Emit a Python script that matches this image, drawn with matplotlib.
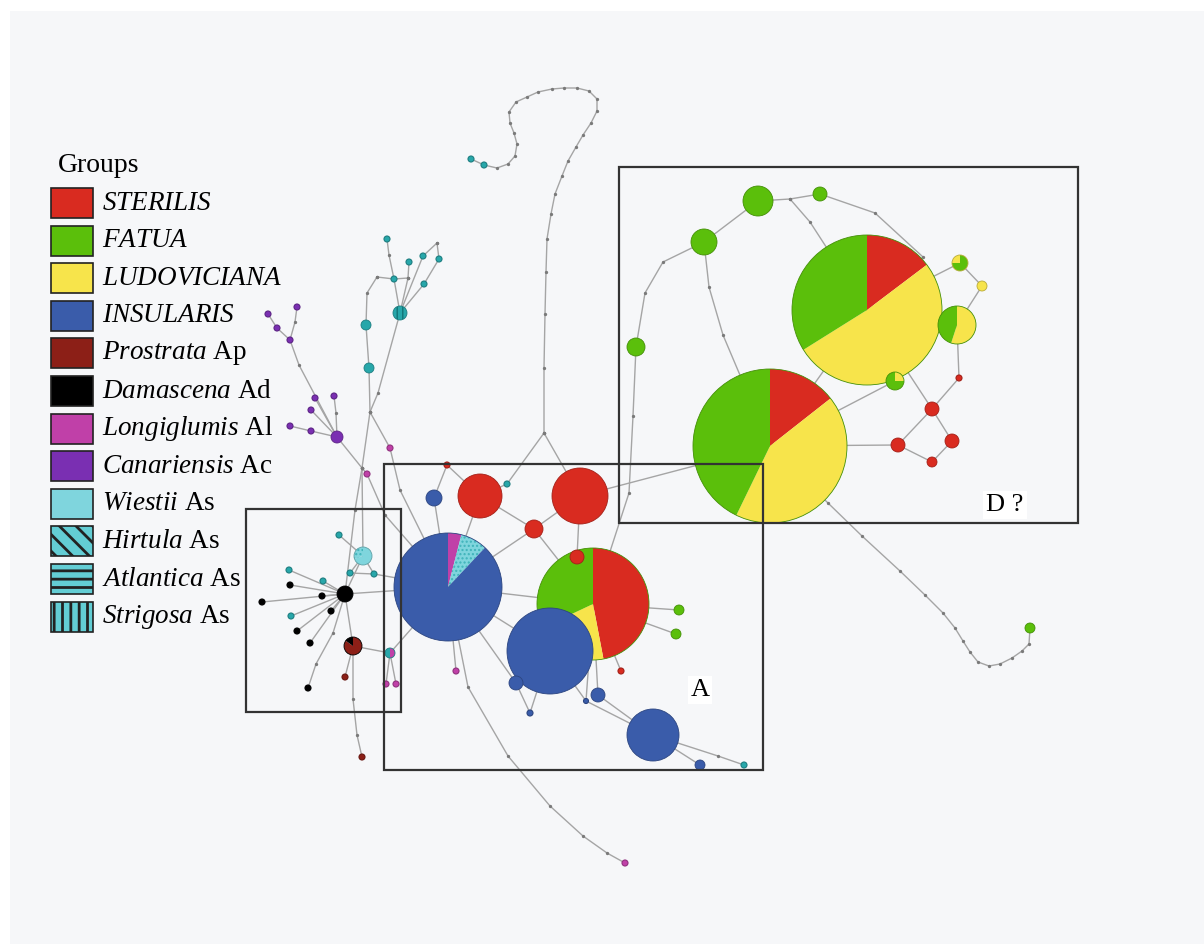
import matplotlib.pyplot as plt
from matplotlib.patches import Wedge, Circle, Rectangle
from matplotlib.colors import to_rgb

plt.rcParams['font.family'] = 'Liberation Serif'
plt.rcParams['mathtext.fontset'] = 'custom'
plt.rcParams['mathtext.rm'] = 'Liberation Serif'
plt.rcParams['mathtext.it'] = 'Liberation Serif:italic'
plt.rcParams['hatch.linewidth'] = 2.0

# groups, legend text and colours
groups = ['STE', 'FAT', 'LUD', 'INS', 'PRO', 'DAM', 'LON', 'CAN', 'WIE', 'HIR', 'ATL', 'STR']
legend_names = ['STERILIS', 'FATUA', 'LUDOVICIANA', 'INSULARIS', 'Prostrata', 'Damascena',
                'Longiglumis', 'Canariensis', 'Wiestii', 'Hirtula', 'Atlantica', 'Strigosa']
legend_codes = ['', '', '', '', 'Ap', 'Ad', 'Al', 'Ac', 'As', 'As', 'As', 'As']
legend_colors = ['#d92b20', '#5bbf0b', '#f7e44b', '#3a5caa', '#8c1f17', '#000000',
                 '#c040a8', '#7a2fb2', '#7fd5dd', '#63cdd4', '#63cdd4', '#63cdd4']
legend_hatch = ['', '', '', '', '', '', '', '', '', '\\\\', '--', '||']
node_colors = dict(zip(groups, legend_colors))
node_colors.update({'HIR': '#7fd5dd', 'STR': '#27a7aa'})
node_hatch = {'HIR': '....', 'STR': '|||'}
node_hatch_color = {'HIR': '#3fb3ba', 'STR': '#127477'}

# haplotypes: D group
d_id = ['dT', 'dB', 'g1', 'g2', 'g3', 'g4', 'p1', 'y1', 'p2', 'p3', 'r1', 'r2', 'r3', 'r4', 'r5', 'g5']
d_x = [867, 770, 758, 820, 704, 636, 960, 982, 957, 895, 959, 932, 898, 952, 932, 1030]
d_y = [310, 446, 201, 194, 242, 347, 263, 286, 325, 381, 378, 409, 445, 441, 462, 628]
d_r = [75, 77, 15, 7, 13, 9, 8, 5, 19, 9, 3, 7, 7, 7, 5, 5]
d_groups = [['STE', 'LUD', 'FAT'], ['STE', 'LUD', 'FAT'], ['FAT'], ['FAT'], ['FAT'], ['FAT'],
            ['FAT', 'LUD'], ['LUD'], ['LUD', 'FAT'], ['LUD', 'FAT'],
            ['STE'], ['STE'], ['STE'], ['STE'], ['STE'], ['FAT']]
d_fracs = [[.147, .514, .339], [.144, .428, .428], [1], [1], [1], [1], [.75, .25], [1],
           [.55, .45], [.25, .75], [1], [1], [1], [1], [1], [1]]

# haplotypes: A group
a_id = ['aB', 'aP', 'aB2', 'aB3', 'b4', 'b5', 'b6', 'b7', 'b8', 'b9', 't1', 'rA', 'rB', 'rC',
        'rD', 'rE', 't2', 'g6', 'g7', 'rF', 'm1', 'm2']
a_x = [448, 593, 550, 653, 598, 516, 530, 700, 434, 586, 744, 480, 580, 534, 577, 447, 507, 679, 676, 621, 456, 625]
a_y = [587, 604, 651, 735, 695, 683, 713, 765, 498, 701, 765, 496, 496, 529, 557, 465, 484, 610, 634, 671, 671, 863]
a_r = [54, 56, 43, 26, 7, 7, 3, 5, 8, 2.5, 3, 22, 28, 9, 7, 3, 3, 5, 5, 3, 3, 3]
a_groups = [['LON', 'HIR', 'INS'], ['STE', 'LUD', 'FAT'], ['INS'], ['INS'], ['INS'], ['INS'], ['INS'],
            ['INS'], ['INS'], ['INS'], ['STR'], ['STE'], ['STE'], ['STE'], ['STE'], ['STE'], ['STR'],
            ['FAT'], ['FAT'], ['STE'], ['LON'], ['LON']]
a_fracs = [[.04, .08, .88], [.47, .21, .32]] + [[1]] * 20

# haplotypes: diploid / As genomes on the left
l_id = ['k0', 'w0', 'pr0', 'tm', 'k1', 'k2', 'k3', 'k4', 'k5', 'k6', 'k7',
        't3', 't4', 't5', 't6', 't7', 't8', 'pr1', 'pr2', 'm3', 'm4', 'm5', 'm6',
        'T0', 'T1', 'T2', 'T3', 'T4', 'T5', 'T6', 'T7', 'T8',
        'c0', 'c1', 'c2', 'c3', 'c4', 'c5', 'c6', 'c7', 'c8', 'c9', 's1', 's2']
l_x = [345, 363, 353, 390, 290, 262, 322, 331, 297, 310, 308,
       339, 350, 374, 289, 323, 291, 345, 362, 386, 396, 367, 390,
       400, 387, 409, 423, 439, 394, 424, 366, 369,
       337, 268, 297, 277, 290, 315, 334, 311, 290, 311, 471, 484]
l_y = [594, 556, 646, 653, 585, 602, 596, 611, 631, 643, 688,
       535, 573, 574, 570, 581, 616, 677, 757, 684, 684, 474, 448,
       313, 239, 262, 256, 259, 279, 284, 325, 368,
       437, 314, 307, 328, 340, 398, 396, 410, 426, 431, 159, 165]
l_r = [8, 9, 9, 5] + [3] * 19 + [7, 3, 3, 3, 3, 3, 3, 5, 5] + [6] + [3] * 9 + [3, 3]
l_groups = ([['DAM'], ['WIE', 'HIR'], ['PRO', 'DAM'], ['LON', 'STR']] + [['DAM']] * 7 + [['STR']] * 6
            + [['PRO']] * 2 + [['LON']] * 4 + [['STR']] * 9 + [['CAN']] * 10 + [['STR']] * 2)
l_fracs = [[1], [.7, .3], [.85, .15], [.5, .5]] + [[1]] * 40

# median vectors / junctions
junc_id = ['J1', 'J2', 'J3', 'J4', 'J5', 'J6', 'J7']
junc_x = [544, 790, 362, 377, 408, 370, 437]
junc_y = [433, 199, 468, 277, 278, 412, 243]

# network links (ids or mutation-step points)
paths = [
    ['s1', 's2', (497, 168), (508, 164), (515, 156), (517, 144), (514, 133), (510, 123), (509, 112),
     (516, 102), (527, 97), (538, 92), (552, 89), (564, 88), (577, 88), (589, 91), (597, 99), (597, 111),
     (591, 123), (583, 135), (576, 147), (568, 161), (562, 176), (555, 194), (551, 214), (547, 239),
     (546, 272), (545, 314), (544, 368), 'J1'],
    ['J1', 't2', 'rA'], ['J1', 'rB'],
    ['rE', 'rA'], ['rE', 'b8'], ['b8', 'aB'], ['rA', 'aB'], ['rA', 'rC'], ['rB', 'rC'], ['rC', 'aB'],
    ['rC', 'aP'], ['rB', 'rD'], ['rB', 'dB'],
    ['g4', (633, 416), (629, 493), 'aP'],
    ['g3', (663, 262), (645, 293), 'g4'],
    ['g3', 'g1'], ['g3', (709, 287), (723, 335), 'dB'],
    ['g1', 'J2', 'g2'], ['J2', (810, 222), 'dT'],
    ['g2', (875, 213), (923, 257), 'dT'],
    ['dT', 'dB'], ['dT', 'p1'], ['p1', 'y1', 'p2'], ['dT', 'p2'], ['p2', 'r1', 'r2'], ['dT', 'r2'],
    ['r2', 'r3'], ['r2', 'r4'], ['r3', 'r5', 'r4'], ['r3', 'dB'], ['p3', 'dB'],
    ['dB', (828, 503), (862, 536), (900, 571), (925, 595), (943, 613), (955, 628), (963, 641), (970, 652),
     (978, 662), (989, 666), (1000, 664), (1012, 658), (1022, 651), (1029, 644), 'g5'],
    ['aP', 'g6'], ['aP', 'g7'], ['aP', 'rF'], ['aB', 'aP'], ['aB', 'aB2'],
    ['aB', 'm1'], ['aB', (468, 687), (508, 756), (550, 806), (583, 836), (607, 853), 'm2'],
    ['aB', 'b5'], ['b5', 'b6'], ['aB2', 'b6'], ['aB2', 'b9'], ['b9', 'aB3'], ['aP', 'b4'], ['b4', 'aB3'],
    ['aP', 'b9'], ['aB3', 'b7'], ['aB3', (718, 756), 't1'],
    ['k0', 'k1'], ['k0', 'k2'], ['k0', 'k3'], ['k0', 'k4'], ['k0', 'k5'], ['k0', 'k6'],
    ['k0', (333, 633), (316, 664), 'k7'], ['k0', 't6'], ['k0', 't7'], ['k0', 't8'],
    ['k0', 'w0'], ['w0', 't3'], ['w0', 't4'], ['w0', 't5'], ['t4', 't5', 'aB'],
    ['k0', 'aB'], ['k0', 'pr0'], ['pr0', 'pr1'], ['pr0', (353, 699), (357, 735), 'pr2'],
    ['pr0', 'tm'], ['tm', 'm3'], ['tm', 'm4'], ['tm', 'aB'],
    ['T1', (389, 255), 'T5'], ['J4', 'T5', 'J5'], ['J4', (367, 293), 'T7'], ['T7', 'T8', 'J6'],
    ['T2', 'J5'], ['J5', 'T0'], ['T5', 'T0'], ['T0', 'T3', 'J7'], ['J7', 'T4', 'T6', 'T0'],
    ['T0', (378, 393), 'J6'], ['J6', 'J3'],
    ['c1', 'c3', 'c4'], ['c2', (295, 322), 'c4'], ['c4', (299, 365), 'c0'], ['c5', 'c0'],
    ['c6', (336, 413), 'c0'], ['c7', 'c0'], ['c8', 'c9', 'c0'], ['c0', 'J3'],
    ['J3', (355, 510), 'k0'], ['J3', 'w0'], ['J3', 'm5', (385, 515), 'aB'], ['J6', 'm6', (400, 490), 'aB'],
]

# boxes and their labels
box_x0 = [619, 384, 246]
box_y0 = [167, 464, 509]
box_x1 = [1078, 763, 401]
box_y1 = [523, 770, 712]
box_labels = ['D ?', 'A']
label_x = [1005, 700]
label_y = [505, 690]

hap_id = d_id + a_id + l_id
hap_x = d_x + a_x + l_x
hap_y = d_y + a_y + l_y
hap_r = d_r + a_r + l_r
hap_groups = d_groups + a_groups + l_groups
hap_fracs = d_fracs + a_fracs + l_fracs

pos = {k: (x, y) for k, x, y in zip(hap_id, hap_x, hap_y)}
pos.update({k: (x, y) for k, x, y in zip(junc_id, junc_x, junc_y)})


def darker(c, f=0.75):
    r, g, b = to_rgb(c)
    return (r * f, g * f, b * f)


fig = plt.figure(figsize=(12.04, 9.44), dpi=100, facecolor='white')
ax = fig.add_axes([0, 0, 1, 1])
ax.set_xlim(0, 1204)
ax.set_ylim(944, 0)
ax.set_aspect('equal')
ax.axis('off')
ax.add_patch(Rectangle((10, 11), 1194, 933, facecolor='#f6f7f9', edgecolor='none', zorder=0))

# links
dot_x, dot_y = [], []
for p in paths:
    pts = [pos[q] if isinstance(q, str) else q for q in p]
    ax.plot([q[0] for q in pts], [q[1] for q in pts], color='#a5a5a5', lw=1.0, zorder=1)
    for q in p:
        if not isinstance(q, str) or q in junc_id:
            xy = pos[q] if isinstance(q, str) else q
            dot_x.append(xy[0])
            dot_y.append(xy[1])
ax.plot(dot_x, dot_y, 'o', ms=2.4, color='#7a7a7a', mec='none', zorder=2)

# haplotype pies, big ones first
order = sorted(range(len(hap_id)), key=lambda i: -hap_r[i])
for n, i in enumerate(order):
    x, y, r = hap_x[i], hap_y[i], hap_r[i]
    z = 3 + n * 0.01
    start = 90.0
    for g, f in zip(hap_groups[i], hap_fracs[i]):
        t1, t2 = -start, -start + 360 * f
        if f >= 1:
            ax.add_patch(Circle((x, y), r, facecolor=node_colors[g], edgecolor='none', zorder=z))
        else:
            ax.add_patch(Wedge((x, y), r, t1, t2, facecolor=node_colors[g], edgecolor='none', zorder=z))
        if g in node_hatch and r >= 6:
            with plt.rc_context({'hatch.linewidth': 1.0}):
                ax.add_patch(Wedge((x, y), r, t1, t2, facecolor='none', edgecolor=node_hatch_color[g],
                                   hatch=node_hatch[g], lw=0, zorder=z + 0.001))
        start -= 360 * f
    main = hap_groups[i][-1] if len(hap_groups[i]) > 1 else hap_groups[i][0]
    ax.add_patch(Circle((x, y), r, facecolor='none', edgecolor=darker(node_colors[main]),
                        lw=0.6 if r > 4 else 0.8, zorder=z + 0.002))

# boxes
for x0, y0, x1, y1 in zip(box_x0, box_y0, box_x1, box_y1):
    ax.add_patch(Rectangle((x0, y0), x1 - x0, y1 - y0, facecolor='none', edgecolor='#333333',
                           lw=1.6, zorder=10))
for t, x, y in zip(box_labels, label_x, label_y):
    ax.text(x, y, t, fontsize=19, ha='center', va='center', zorder=11,
            bbox=dict(facecolor='white', edgecolor='none', pad=2))

# legend
ax.text(58, 166, 'Groups', fontsize=20, ha='left', va='center')
for k, (name, code, col, h) in enumerate(zip(legend_names, legend_codes, legend_colors, legend_hatch)):
    yc = 203 + 37.6 * k
    ax.add_patch(Rectangle((51, yc - 15), 42, 30, facecolor=col, edgecolor='#222222',
                           hatch=h, lw=1.2, zorder=5))
    if code:
        label = r'$\mathit{' + name + '}$ ' + code
    else:
        label = r'$\mathit{' + name + '}$'
    ax.text(102, yc, label, fontsize=19.5, ha='left', va='center')

fig.savefig('out.png', dpi=100, facecolor='white')
